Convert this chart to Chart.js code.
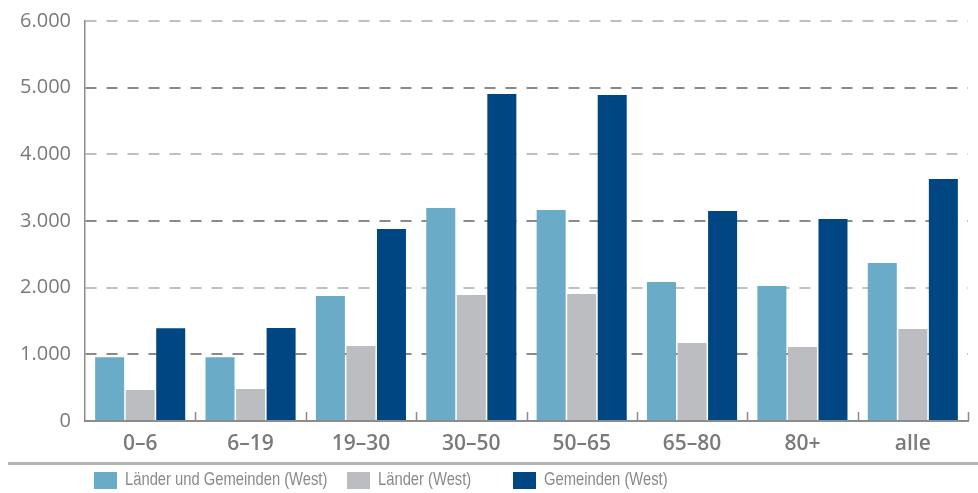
<!DOCTYPE html>
<html lang="de">
<head>
<meta charset="utf-8">
<script src="https://cdn.jsdelivr.net/npm/chart.js@4/dist/chart.umd.min.js"></script>
<style>
  html, body { margin: 0; padding: 0; background: #fff; }
  #wrap { position: relative; width: 978px; height: 493px; overflow: hidden; }
  #chart { position: absolute; left: 0; top: 0; }
  #rule { position: absolute; left: 8px; right: 0; top: 462px; height: 3px; background: #b4b4b4; }
  #legend { position: absolute; left: 0; top: 470px; height: 22px; width: 978px; }
  .item { position: absolute; top: 0; height: 20px; }
  .box { position: absolute; left: 0; top: 2px; width: 23px; height: 17px; }
  .lbl { position: absolute; left: 31px; top: -1px; display: inline-block; transform: scaleX(0.82); transform-origin: 0 50%;
         font-family: "Liberation Sans", sans-serif; font-size: 18px; color: #8a8a8a; white-space: nowrap; }
</style>
</head>
<body>
<div id="wrap">
  <canvas id="chart" width="978" height="493"></canvas>
  <div id="rule"></div>
  <div id="legend"></div>
</div>
<script>
// Altersgruppen
const categories = ["0–6", "6–19", "19–30", "30–50", "50–65", "65–80", "80+", "alle"];

// Werte je Gebietskörperschaftsebene
const laenderUndGemeinden = [955, 955, 1875, 3195, 3165, 2085, 2025, 2370];
const laender = [465, 480, 1125, 1890, 1905, 1170, 1110, 1380];
const gemeinden = [1390, 1395, 2880, 4905, 4890, 3150, 3030, 3630];

const seriesLabels = ["Länder und Gemeinden (West)", "Länder (West)", "Gemeinden (West)"];
const seriesColors = ["#6aabc8", "#bcbdc1", "#004682"];

// y-Achse
const yTicks = [0, 1000, 2000, 3000, 4000, 5000, 6000];

// Positionen der Legendeneinträge
const legendLeft = [94, 347, 513];

// kurze Teilstriche zwischen den Kategorien, nach innen gerichtet
const innerTicks = {
  id: "innerTicks",
  afterDraw(chart) {
    const x = chart.scales.x;
    const ctx = chart.ctx;
    const n = categories.length;
    const step = x.width / n;
    ctx.save();
    ctx.strokeStyle = "#8c8c8c";
    ctx.lineWidth = 1.5;
    ctx.beginPath();
    for (let i = 1; i <= n; i++) {
      const px = Math.round(x.left + i * step) + 0.5;
      ctx.moveTo(px, x.top);
      ctx.lineTo(px, x.top - 9);
    }
    ctx.stroke();
    ctx.restore();
  }
};

const datasets = [laenderUndGemeinden, laender, gemeinden].map((d, i) => ({
  label: seriesLabels[i],
  data: d,
  backgroundColor: seriesColors[i],
  borderWidth: 0,
  categoryPercentage: 0.83,
  barPercentage: 0.95
}));

new Chart(document.getElementById("chart"), {
  type: "bar",
  data: { labels: categories, datasets },
  options: {
    responsive: false,
    animation: false,
    layout: { padding: { top: 21, right: 10, left: 0, bottom: 0 } },
    plugins: { legend: { display: false }, tooltip: { enabled: false } },
    scales: {
      x: {
        grid: { display: false },
        border: { display: true, color: "#8c8c8c", width: 2 },
        ticks: {
          padding: 2,
          color: "#7a7a7a",
          font: { family: "'Open Sans', 'Liberation Sans', sans-serif", size: 21, weight: "600" }
        },
        afterFit(scale) { scale.height = 72; scale.paddingLeft = 0; scale.paddingRight = 0; }
      },
      y: {
        min: 0,
        max: 6000,
        afterBuildTicks(scale) { scale.ticks = yTicks.map(v => ({ value: v })); },
        grid: {
          drawTicks: false,
          lineWidth: 2,
          color: c => (c.tick && c.tick.value === 0) ? "rgba(0,0,0,0)" :
                      (c.tick && c.tick.value % 2000 === 0 ? "#c0c0c0" : "#8a8a8a")
        },
        border: { display: true, color: "#8c8c8c", width: 1.5, dash: [11, 10] },
        ticks: {
          padding: 14,
          color: "#7a7a7a",
          font: { family: "'Open Sans', 'Liberation Sans', sans-serif", size: 20 },
          callback: v => v.toLocaleString("de-DE")
        },
        afterFit(scale) { scale.width = 85; scale.paddingTop = 0; scale.paddingBottom = 0; }
      }
    }
  },
  plugins: [innerTicks]
});

// Legende
const legend = document.getElementById("legend");
seriesLabels.forEach((t, i) => {
  const it = document.createElement("div");
  it.className = "item";
  it.style.left = legendLeft[i] + "px";
  const b = document.createElement("div");
  b.className = "box";
  b.style.background = seriesColors[i];
  const l = document.createElement("span");
  l.className = "lbl";
  l.textContent = t;
  it.appendChild(b);
  it.appendChild(l);
  legend.appendChild(it);
});
</script>
</body>
</html>
